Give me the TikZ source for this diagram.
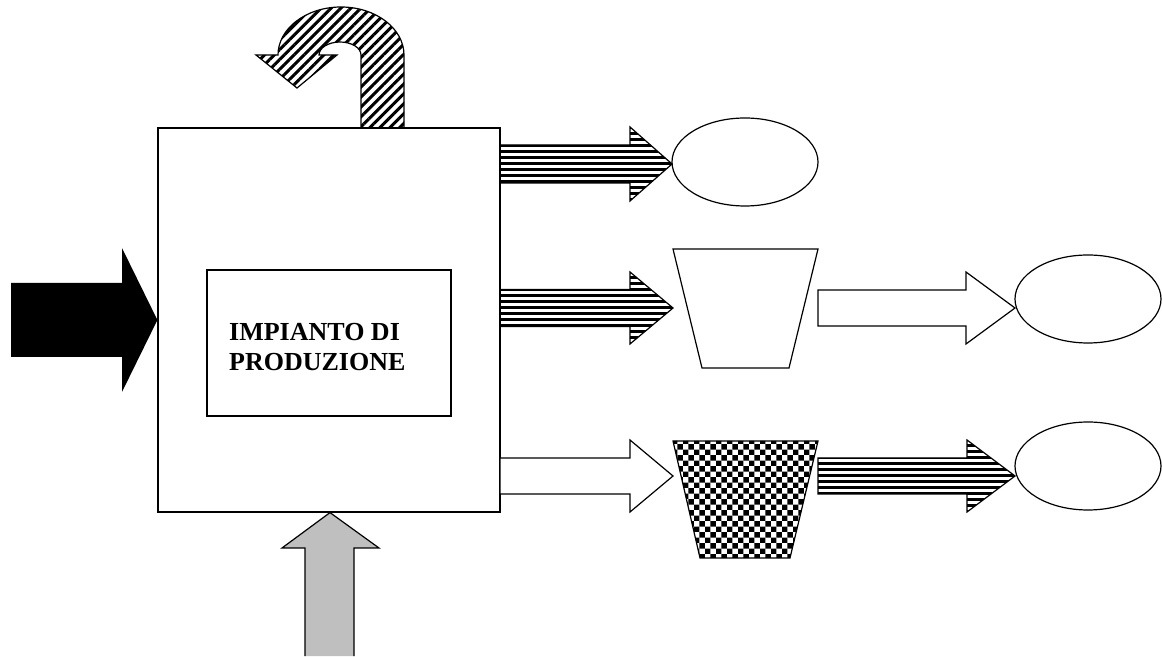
\documentclass[tikz,border=0pt]{standalone}
\usepackage{fontspec}
\setmainfont{Liberation Serif}
\usepackage{tikz}
\usetikzlibrary{shapes,patterns.meta}
\tikzdeclarepattern{
  name=checks,
  tile size={(11.4pt,11.4pt)},
  bottom left={(0pt,0pt)}, top right={(11.4pt,11.4pt)},
  code={
    \fill (0pt,0pt) rectangle (5.7pt,5.7pt);
    \fill (5.7pt,5.7pt) rectangle (11.4pt,11.4pt);
  }
}
\tikzstyle{box}=[rectangle, draw=black, line width=1.2pt]
\tikzstyle{outlet}=[ellipse, draw=black, line width=1.2pt, minimum width=146pt, minimum height=88pt, inner sep=0pt]
\tikzstyle{hatched}=[draw=black, line width=1.2pt, line join=miter, pattern={Lines[angle=0,distance=6pt,line width=3pt]}]
\tikzstyle{slanted}=[draw=black, line width=1.2pt, line join=miter, pattern={Lines[angle=45,distance=7pt,line width=3pt]}]
\tikzstyle{plain}=[draw=black, fill=white, line width=1.2pt, line join=miter]
\tikzstyle{checked}=[draw=black, line width=1.2pt, pattern=checks]
% block arrow: style, start x, head x, tip x, centre y, half shaft, half head
\newcommand{\harrow}[7]{%
  \path[#1] (#2,#5-#6) -- (#3,#5-#6) -- (#3,#5-#7) -- (#4,#5) -- (#3,#5+#7)
    -- (#3,#5+#6) -- (#2,#5+#6) -- cycle;}

\begin{document}
\begin{tikzpicture}[x=1pt, y=1pt]
    \useasboundingbox (0,0) rectangle (1162,656);

    \node [style=box, minimum width=342pt, minimum height=384pt] (plant) at (329, 336) {};
    \node [style=box, minimum width=244pt, minimum height=146pt] (core) at (329, 313) {};
    \node [anchor=west, align=left, inner sep=0pt, font=\bfseries\fontsize{26}{30}\selectfont] (name) at (229, 309) {IMPIANTO DI\\PRODUZIONE};

    \node [style=outlet] (out1) at (745, 494) {};
    \node [style=outlet] (out2) at (1088, 357) {};
    \node [style=outlet] (out3) at (1088, 190) {};

    % inputs
    \path [fill=black] (11,299) -- (122,299) -- (122,264) -- (plant.west) -- (122,408) -- (122,373) -- (11,373) -- cycle;
    \path [draw=black, fill=gray!50, line width=1.2pt, line join=miter] (305,0) -- (305,108) -- (282,108) -- (plant.south -| 330,0) -- (379,108) -- (354,108) -- (354,0);

    % loop back over the top
    \path [style=slanted] (404,528) -- (404,601) arc[start angle=0, end angle=180, x radius=63, y radius=48]
        -- (256,601) -- (297,568) -- (337,601) -- (319,601)
        arc[start angle=180, end angle=0, x radius=21, y radius=13] -- (361,528) -- cycle;

    % products
    \harrow{style=hatched}{500}{630}{672}{492}{19}{37}
    \harrow{style=hatched}{500}{630}{673}{348}{18.5}{36}
    \harrow{style=plain}{500}{630}{673}{180}{18}{36}

    \path [style=plain] (673,407) -- (818,407) -- (789,288) -- (702,288) -- cycle;
    \path [style=checked] (673,215) -- (818,215) -- (790,98) -- (700,98) -- cycle;

    \harrow{style=plain}{818}{966}{1015}{348}{18}{36}
    \harrow{style=hatched}{818}{967}{1015}{180}{18}{36}
\end{tikzpicture}
\end{document}
